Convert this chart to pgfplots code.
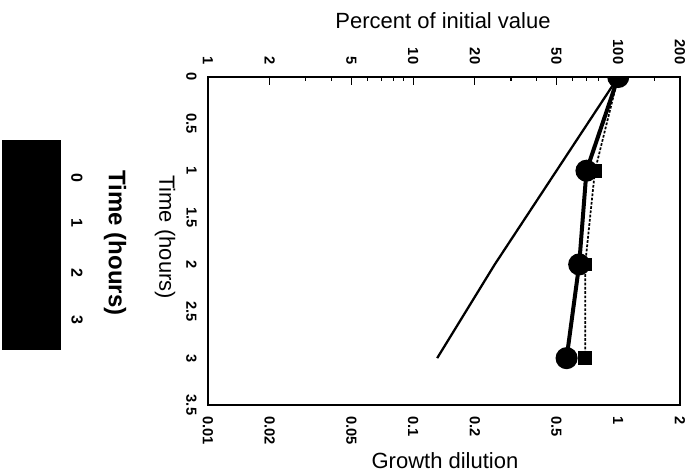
\documentclass[border=0pt]{standalone}
\usepackage{fontspec}
\setmainfont{Liberation Sans}
\usepackage{pgfplots}
\pgfplotsset{compat=1.18}
\begin{document}
\begin{tikzpicture}
\path[use as bounding box] (0pt,0pt) rectangle (522.75pt,356.25pt);
% gel strip
\fill[black] (1.5pt,93.75pt) rectangle (45.75pt,251.25pt);
\node[rotate=-90,font=\fontsize{18}{20}\selectfont\bfseries] at (86.25pt,174pt) {Time (hours)};
\foreach \yy/\t in {222.75/0,189/1,151.5/2,116.25/3}
  \node[rotate=-90,font=\fontsize{12}{13}\selectfont\bfseries] at (57.75pt,\yy pt) {\t};
% main axis
\begin{axis}[at={(156pt,52.5pt)}, anchor=south west, scale only axis,
  width=354pt, height=246pt,
  xmode=log, xmin=0.01, xmax=2, ymin=-3.5, ymax=0,
  xtick={0.01,0.02,0.05,0.1,0.2,0.5,1,2},
  xticklabels={0.01,0.02,0.05,0.1,0.2,0.5,1,2},
  ytick={-3.5,-3,-2.5,-2,-1.5,-1,-0.5,0},
  yticklabels={3.5,3,2.5,2,1.5,1,0.5,0},
  minor xtick={}, major tick length=0pt, minor tick length=0pt,
  axis line style={line width=1.5pt},
  /pgf/number format/assume math mode=true,
  xticklabel style={rotate=-90, anchor=west, font=\fontsize{11}{12}\selectfont\bfseries},
  yticklabel style={rotate=-90, anchor=north, font=\fontsize{11}{12}\selectfont\bfseries},
  xticklabel shift=5pt, yticklabel shift=5pt,
  clip marker paths=true]
\addplot[black, line width=1.7pt] coordinates {(1,0) (0.50,-1) (0.25,-2) (0.131,-3)};
\addplot[black, line width=1.3pt, dash pattern=on 2pt off 1.2pt, mark=square*, mark size=4.5pt, mark options={solid}]
  coordinates {(1,0) (0.77,-1) (0.69,-2) (0.69,-3)};
\addplot[black, line width=3pt, mark=*, mark size=6.75pt]
  coordinates {(1,0) (0.70,-1) (0.645,-2) (0.56,-3)};
\end{axis}
% top axis
\begin{axis}[at={(156pt,52.5pt)}, anchor=south west, scale only axis,
  width=354pt, height=246pt,
  xmode=log, xmin=1, xmax=200, ymin=-3.5, ymax=0,
  axis x line*=top, hide y axis,
  xtick={1,2,5,10,20,50,100,200},
  xticklabels={1,2,5,10,20,50,100,200},
  minor xtick={3,4,6,7,8,9,30,40,60,70,80,90,150},
  xtick align=inside, major tick length=6pt, minor tick length=3pt,
  tick style={black, line width=0.8pt},
  axis line style={line width=1.5pt},
  /pgf/number format/assume math mode=true,
  xticklabel style={rotate=-90, anchor=east, font=\fontsize{11}{12}\selectfont\bfseries},
  xticklabel shift=6pt]
\addplot[draw=none] coordinates {(1,0)};
\end{axis}
\node[font=\fontsize{16.5}{18}\selectfont] at (332.25pt,340.5pt) {Percent of initial value};
\node[font=\fontsize{16.5}{18}\selectfont] at (333.75pt,11pt) {Growth dilution};
\node[rotate=-90,font=\fontsize{16.5}{18}\selectfont] at (123.75pt,178.5pt) {Time (hours)};
\end{tikzpicture}
\end{document}
